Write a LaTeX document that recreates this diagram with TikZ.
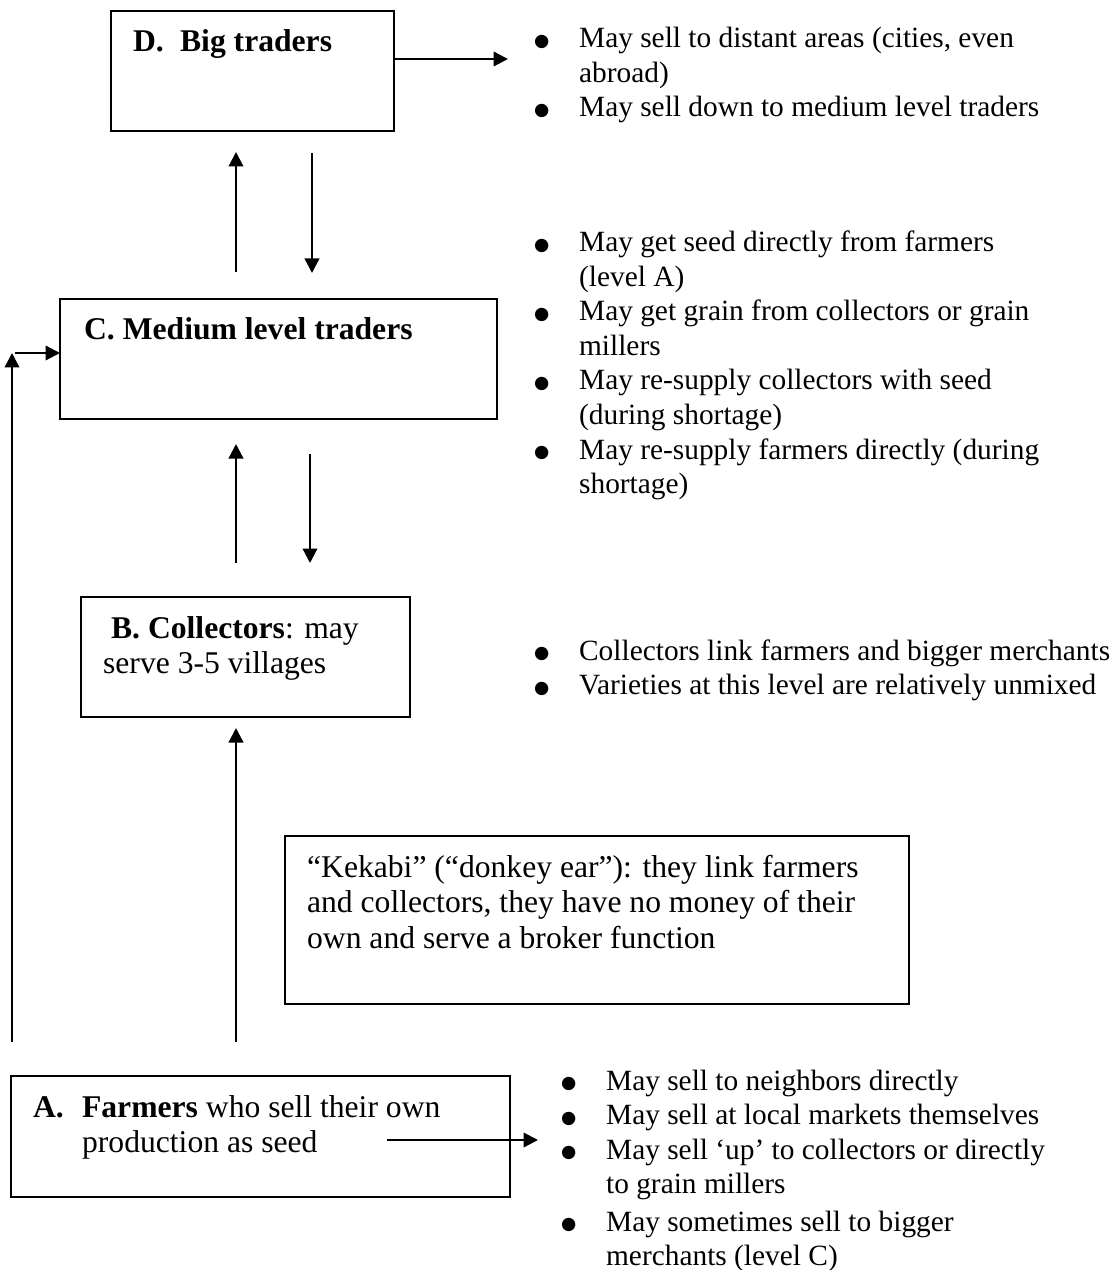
\documentclass[tikz,border=0pt]{standalone}
\usepackage{fontspec}
\setmainfont{Liberation Serif}
\newfontfamily\dotfont{DejaVu Sans}
\usetikzlibrary{arrows.meta,positioning}
\newcommand{\blt}{{\dotfont\fontsize{7pt}{7pt}\selectfont\raisebox{0.6pt}{●}}}

\begin{document}
\begin{tikzpicture}[x=0.4pt,y=-0.4pt,>={Triangle[length=5.8pt,width=5.8pt]},
                    line width=0.9pt,font=\fontsize{11.75pt}{13.8pt}\selectfont,
                    level box/.style={draw,line width=0.8pt,anchor=north west,inner sep=0pt,outer sep=0pt},
                    box text/.style={anchor=base west,inner sep=0pt,font=\fontsize{12.65pt}{14.2pt}\selectfont},
                    bullets/.style={anchor=base west,inner sep=0pt}]

  \useasboundingbox (0,0) rectangle (1113,1270);

  % the four levels and the broker box
  \node[level box,minimum width=113.2pt,minimum height=48pt] (D) at (111,11) {};
  \node[level box,minimum width=174.8pt,minimum height=48pt] (C) at (60,299) {};
  \node[level box,minimum width=131.6pt,minimum height=48pt] (B) at (81,597) {};
  \node[level box,minimum width=249.6pt,minimum height=67.2pt] (K) at (285,836) {};
  \node[level box,minimum width=199.6pt,minimum height=48.4pt] (A) at (11,1076) {};

  \node[box text] (Dtext) at ([shift={(21,41)}]D.north west)
    {\begin{tabular}[t]{@{}p{18.8pt}@{}l@{}}\textbf{D.} & \textbf{Big traders}\end{tabular}};
  \node[box text] (Ctext) at ([shift={(23,41)}]C.north west)
    {\textbf{C. Medium level traders}};
  \node[box text] (Btext) at ([shift={(21,41)}]B.north west)
    {\begin{tabular}[t]{@{}l@{}}\hspace{3.2pt}\textbf{B. Collectors}: may\\ serve 3-5 villages\end{tabular}};
  \node[box text] (Ktext) at ([shift={(21,41)}]K.north west)
    {\begin{tabular}[t]{@{}l@{}}“Kekabi” (“donkey ear”): they link farmers\\
     and collectors, they have no money of their\\ own and serve a broker function\end{tabular}};
  \node[box text] (Atext) at ([shift={(21,41)}]A.north west)
    {\begin{tabular}[t]{@{}p{19.6pt}@{}l@{}}\textbf{A.} & \textbf{Farmers} who sell their own\\ & production as seed\end{tabular}};

  % what each level does
  \node[bullets] (Dlist) at (533,48)
    {\begin{tabular}[t]{@{}p{18pt}@{}l@{}}
     \blt & May sell to distant areas (cities, even\\
          & abroad)\\
     \blt & May sell down to medium level traders
     \end{tabular}};
  \node[bullets] (Clist) at (533,252)
    {\begin{tabular}[t]{@{}p{18pt}@{}l@{}}
     \blt & May get seed directly from farmers\\
          & (level A)\\
     \blt & May get grain from collectors or grain\\
          & millers\\
     \blt & May re-supply collectors with seed\\
          & (during shortage)\\
     \blt & May re-supply farmers directly (during\\
          & shortage)
     \end{tabular}};
  \node[bullets] (Blist) at (533,660)
    {\begin{tabular}[t]{@{}p{18pt}@{}l@{}}
     \blt & Collectors link farmers and bigger merchants\\
     \blt & Varieties at this level are relatively unmixed
     \end{tabular}};
  \node[bullets] (Alist) at (560,1090)
    {\begin{tabular}[t]{@{}p{18pt}@{}l@{}}
     \blt & May sell to neighbors directly\\
     \blt & May sell at local markets themselves\\
     \blt & May sell ‘up’ to collectors or directly\\
          & to grain millers\\[1.2pt]
     \blt & May sometimes sell to bigger\\
          & merchants (level C)
     \end{tabular}};

  % free ends of the connectors
  \coordinate (Dout) at (508,59);
  \coordinate (DCup) at (236,272);
  \coordinate (DCdown) at (312,153);
  \coordinate (CBup) at (236,563);
  \coordinate (CBdown) at (310,454);
  \coordinate (ABup) at (236,1042);
  \coordinate (side) at (12,1042);
  \coordinate (sidetop) at (12,353);
  \coordinate (sideC) at (15,353);
  \coordinate (Aout) at (387,1140);
  \coordinate (Aend) at (538,1140);

  \draw[->] (D.east |- Dout) -- (Dout);
  \draw[->] (DCup) -- (236,152);
  \draw[->] (DCdown) -- (312,273);
  \draw[->] (CBup) -- (236,444);
  \draw[->] (CBdown) -- (310,563);
  \draw[->] (ABup) -- (236,728);
  \draw[->] (side) -- (sidetop);
  \draw[->] (sideC) -- (C.west |- sideC);
  \draw[->] (Aout) -- (Aend);
\end{tikzpicture}
\end{document}
